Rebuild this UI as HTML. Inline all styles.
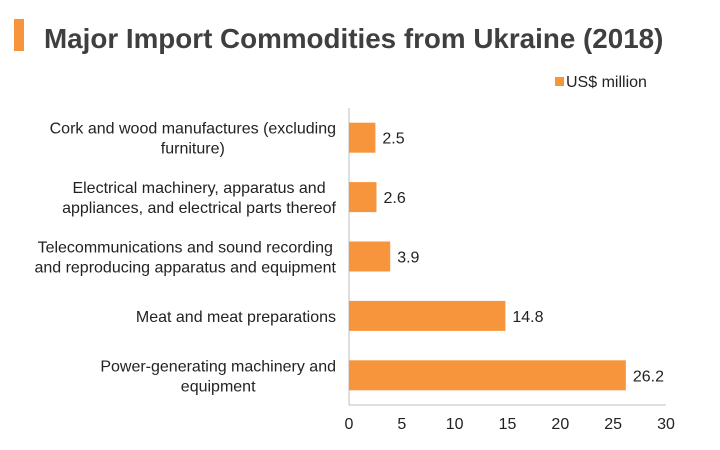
<!DOCTYPE html>
<html><head><meta charset="utf-8"><style>
body{margin:0;background:#fff;}
svg{display:block;font-family:"Liberation Sans",Arial,sans-serif;}
</style></head><body>
<svg id="chart" width="720" height="450">
<rect x="14" y="19" width="10" height="32" fill="#f7953d"/>
<text x="44" y="48" font-size="27.8" font-weight="bold" fill="#3f3f3f">Major Import Commodities from Ukraine (2018)</text>
<rect x="555" y="77" width="9" height="9" fill="#f7953d"/>
<text x="566" y="87" font-size="16" fill="#222">US$ million</text>
<g id="plot"></g>
</svg>
<script>
const categories=[["Cork and wood manufactures (excluding","furniture)"],["Electrical machinery, apparatus and","appliances, and electrical parts thereof"],["Telecommunications and sound recording","and reproducing apparatus and equipment"],["Meat and meat preparations"],["Power-generating machinery and","equipment"]];
const values=[2.5,2.6,3.9,14.8,26.2];
const valueLabels=["2.5","2.6","3.9","14.8","26.2"];
const ticks=[0,5,10,15,20,25,30];
const ns="http://www.w3.org/2000/svg";
const g=document.getElementById('plot');
const x0=349,x1=666,yTop=108,yBot=405;
const xs=v=>x0+(v-0)/(30-0)*(x1-x0);
const band=(yBot-yTop)/categories.length;
const yc=i=>yTop+band*(i+0.5);
function el(t,a){const e=document.createElementNS(ns,t);for(const k in a)e.setAttribute(k,a[k]);g.appendChild(e);return e;}
const ax=el('line',{x1:x0,x2:x0,y1:yTop,y2:yBot,stroke:'#bfbfbf'});


const bx=el('line',{x1:x0,x2:x1,y1:yBot,y2:yBot,stroke:'#bfbfbf'});


ticks.forEach(t=>{const e=el('text',{x:xs(t),y:yBot+24,'font-size':16,fill:'#222','text-anchor':'middle'});e.textContent=t;

});
categories.forEach((c,i)=>{
const y=yc(i);
const r=el('rect',{x:x0,y:y-15,width:xs(values[i])-x0,height:30,fill:'#f7953d'});


const v=el('text',{x:xs(values[i])+7,y:y+6,'font-size':16,fill:'#222'});v.textContent=valueLabels[i];


const n=c.length;
const els=c.map((line,j)=>{const t=el('text',{x:0,y:y+6+(j-(n-1)/2)*20,'font-size':16,fill:'#222','text-anchor':'middle'});t.textContent=line;

return t;});
const w=Math.max(...els.map(t=>t.getComputedTextLength()));
els.forEach(t=>t.setAttribute('x',336-w/2));
});
</script>
</body></html>
